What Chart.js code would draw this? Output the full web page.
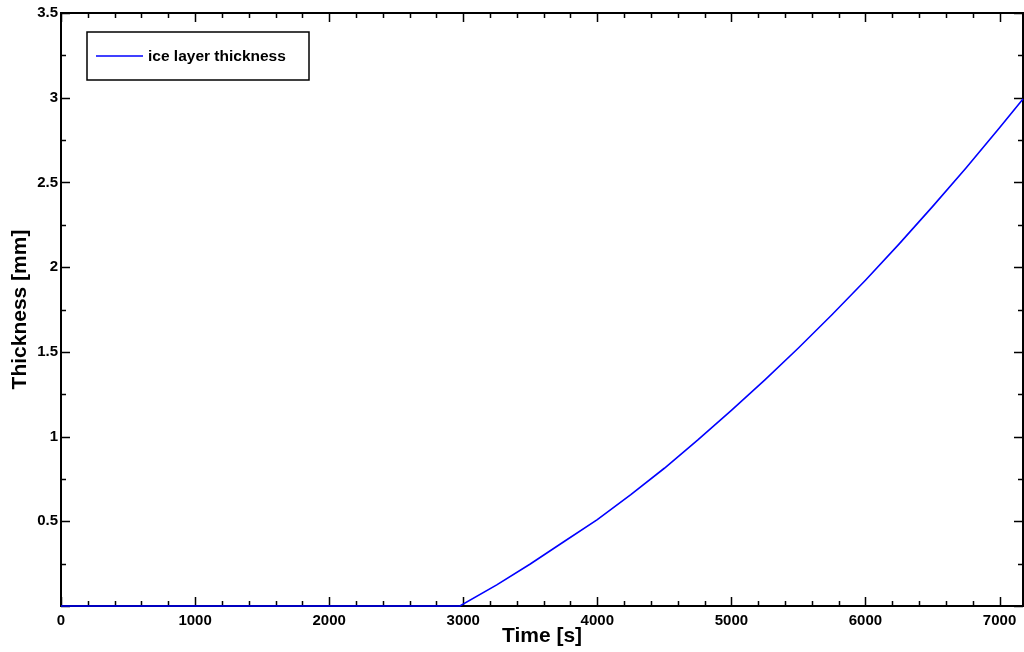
<!DOCTYPE html>
<html>
<head>
<meta charset="utf-8">
<title>Ice layer thickness</title>
<script src="https://cdn.jsdelivr.net/npm/chart.js@4.4.1/dist/chart.umd.min.js"></script>
<style>
  html, body { margin: 0; padding: 0; background: #fff; }
  #wrap { width: 1024px; height: 652px; position: relative; }
</style>
</head>
<body>
<div id="wrap"><canvas id="grafik"></canvas></div>
<script>
// Waktu [s] dan tebal lapisan es [mm]
const waktu = [0, 2975, 3250, 3500, 3750, 4000, 4250, 4500, 4750, 5000, 5250, 5500, 5750, 6000, 6250, 6500, 6750, 7000, 7175];
const tebalEs = [0, 0, 0.125, 0.248, 0.379, 0.51, 0.658, 0.813, 0.98, 1.155, 1.335, 1.523, 1.719, 1.923, 2.136, 2.357, 2.585, 2.823, 2.993];

// Label sumbu
const xTicks = [0, 1000, 2000, 3000, 4000, 5000, 6000, 7000];
const yTicks = [0.5, 1, 1.5, 2, 2.5, 3, 3.5];
const xMinorStep = 200;
const yMinorStep = 0.25;

const hitam = "#000";
const biru = "#0000ff";
const fontTick = { family: "'Liberation Sans', Arial, sans-serif", size: 15, weight: "bold" };
const fontJudul = { family: "'Liberation Sans', Arial, sans-serif", size: 21, weight: "bold" };

// Bingkai kotak + tick ke dalam di keempat sisi
const bingkai = {
  id: "bingkai",
  beforeDatasetsDraw(chart) {
    const { ctx, chartArea: a, scales: { x, y } } = chart;
    ctx.save();
    ctx.strokeStyle = hitam;
    ctx.lineWidth = 1.5;
    ctx.beginPath();
    for (let v = 0; v <= x.max + 1e-6; v += xMinorStep) {
      const px = Math.round(x.getPixelForValue(v)) + 0.5;
      const len = v % 1000 === 0 ? 9 : 5;
      ctx.moveTo(px, a.bottom); ctx.lineTo(px, a.bottom - len);
      ctx.moveTo(px, a.top); ctx.lineTo(px, a.top + len);
    }
    for (let k = 0; k * yMinorStep <= y.max + 1e-6; k++) {
      const v = k * yMinorStep;
      const py = Math.round(y.getPixelForValue(v)) + 0.5;
      const len = k % 2 === 0 ? 9 : 5;
      ctx.moveTo(a.left, py); ctx.lineTo(a.left + len, py);
      ctx.moveTo(a.right, py); ctx.lineTo(a.right - len, py);
    }
    ctx.stroke();
    ctx.lineWidth = 2;
    ctx.strokeRect(a.left, a.top, a.right - a.left, a.bottom - a.top);
    ctx.restore();
  }
};

// Legenda di dalam area grafik, pojok kiri atas
const legendaKotak = {
  id: "legendaKotak",
  afterDraw(chart) {
    const { ctx, chartArea: a } = chart;
    const ds = chart.data.datasets[0];
    const bx = a.left + 26, by = a.top + 19, bw = 222, bh = 48;
    ctx.save();
    ctx.fillStyle = "#fff";
    ctx.fillRect(bx, by, bw, bh);
    ctx.strokeStyle = hitam;
    ctx.lineWidth = 1.5;
    ctx.strokeRect(bx, by, bw, bh);
    const my = by + bh / 2;
    ctx.strokeStyle = ds.borderColor;
    ctx.lineWidth = 1.5;
    ctx.beginPath();
    ctx.moveTo(bx + 9, my);
    ctx.lineTo(bx + 56, my);
    ctx.stroke();
    ctx.fillStyle = hitam;
    ctx.font = "bold 15.5px 'Liberation Sans', Arial, sans-serif";
    ctx.textBaseline = "middle";
    ctx.fillText(ds.label, bx + 61, my + 1);
    ctx.restore();
  }
};

const ctx = document.getElementById("grafik").getContext("2d");
new Chart(ctx, {
  type: "line",
  data: {
    datasets: [{
      label: "ice layer thickness",
      data: waktu.map((t, i) => ({ x: t, y: tebalEs[i] })),
      borderColor: biru,
      borderWidth: 1.6,
      pointRadius: 0,
      fill: false,
      tension: 0,
      clip: false
    }]
  },
  options: {
    responsive: true,
    maintainAspectRatio: false,
    animation: false,
    layout: { padding: { top: 13, right: 1, left: 0, bottom: 0 } },
    plugins: { legend: { display: false }, tooltip: { enabled: false } },
    scales: {
      x: {
        type: "linear",
        min: 0,
        max: 7175,
        afterBuildTicks: s => { s.ticks = xTicks.map(v => ({ value: v })); },
        afterFit: s => { s.height = 46; },
        grid: { display: false, drawTicks: false },
        border: { display: false },
        ticks: { font: fontTick, color: hitam, padding: 6, maxRotation: 0, autoSkip: false, callback: v => String(v) },
        title: { display: true, text: "Time [s]", font: fontJudul, color: hitam, padding: { top: 0, bottom: 3 } }
      },
      y: {
        type: "linear",
        min: 0,
        max: 3.5,
        afterBuildTicks: s => { s.ticks = yTicks.map(v => ({ value: v })); },
        afterFit: s => { s.width = 61; },
        grid: { display: false, drawTicks: false },
        border: { display: false },
        ticks: { font: fontTick, color: hitam, padding: 3, autoSkip: false, callback: v => String(v) },
        title: { display: true, text: "Thickness [mm]", font: fontJudul, color: hitam, padding: { top: 8, bottom: 0 } }
      }
    }
  },
  plugins: [bingkai, legendaKotak]
});
</script>
</body>
</html>
